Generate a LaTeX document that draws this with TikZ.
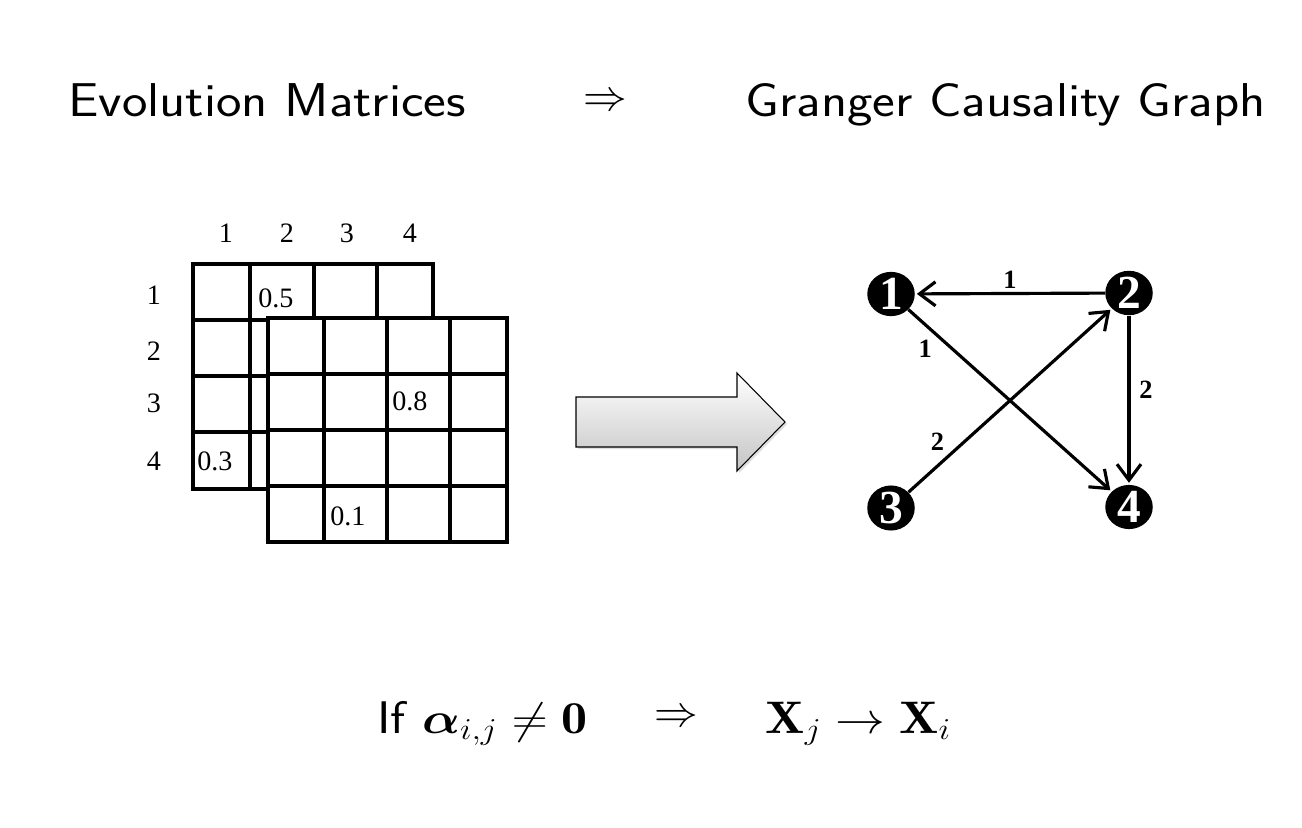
\documentclass[tikz,border=0pt]{standalone}
\usepackage{amsmath}
\usepackage{fontspec}
\usepackage{tikz}
\usetikzlibrary{arrows.meta,positioning,shapes.geometric,shadows}
\newfontfamily\timesfont{Liberation Serif}
\definecolor{arrowshade}{RGB}{196,196,196}
\tikzset{
 headline/.style={
 font=\sffamily\fontsize{27}{32}\selectfont,
 inner sep=0pt,
 xscale=1.14
 },
 formula/.style={
 font=\sffamily\fontsize{26}{30}\selectfont,
 inner sep=0pt,
 xscale=1.14
 },
 implies/.style={font=\fontsize{26}{30}\selectfont, inner sep=0pt},
 gridline/.style={line width=2.3pt},
 idxlabel/.style={font=\timesfont\fontsize{16}{18}\selectfont, inner sep=0pt},
 cellval/.style={font=\timesfont\fontsize{16}{18}\selectfont, inner sep=0pt, anchor=west},
 vertex/.style={
 ellipse,
 fill=black,
 text=white,
 minimum width=0.95cm,
 minimum height=0.82cm,
 inner sep=0pt,
 font=\timesfont\bfseries\fontsize{27}{27}\selectfont
 },
 weight/.style={font=\timesfont\bfseries\fontsize{15}{17}\selectfont, inner sep=2pt},
 causalarrow/.style={-{Straight Barb[length=3.2mm,width=4.8mm]}, line width=1.8pt, shorten >=1pt},
 bigarrow/.style={
 draw=black,
 line width=0.6pt,
 top color=white,
 bottom color=arrowshade,
 drop shadow={opacity=0.25, shadow xshift=1.2pt, shadow yshift=-1.2pt}
 }
}

\begin{document}
\begin{tikzpicture}[x=0.02cm, y=-0.02cm]
 \useasboundingbox (0,0) rectangle (1302,828);
 % headings
 \node[headline, anchor=base west] (evo) at (68,117) {Evolution Matrices};
 \node[implies] (imp) at (605,102) {$\Rightarrow$};
 \node[headline, anchor=base west] (gcg) at (745,117) {Granger Causality Graph};

 % back matrix
 \draw[gridline] (193,264) rectangle (433,489);
 \foreach \x in {250,314,377} \draw[gridline] (\x,264) -- (\x,489);
 \foreach \y in {320,376,432} \draw[gridline] (193,\y) -- (433,\y);
 % front matrix
 \fill[white] (268,318) rectangle (507,542);
 \draw[gridline] (268,318) rectangle (507,542);
 \foreach \x in {324,387,450} \draw[gridline] (\x,318) -- (\x,542);
 \foreach \y in {374,430,486} \draw[gridline] (268,\y) -- (507,\y);

 % indices
 \foreach \i/\x in {1/226,2/287,3/347,4/410}
 \node[idxlabel] (col\i) at (\x,233) {\i};
 \foreach \i/\y in {1/295,2/351,3/403,4/461}
 \node[idxlabel] (row\i) at (154,\y) {\i};

 % entries
 \node[cellval] (a12) at (258,298) {0.5};
 \node[cellval] (a41) at (197,461) {0.3};
 \node[cellval] (b33) at (392,401) {0.8};
 \node[cellval] (b52) at (330,516) {0.1};

 % big arrow
 \draw[bigarrow] (576,397) -- (737,397) -- (737,373) -- (785,422)
 -- (737,471) -- (737,447) -- (576,447) -- cycle;

 % graph
 \node[vertex] (v1) at (891,294) {1};
 \node[vertex] (v2) at (1129,293) {2};
 \node[vertex] (v3) at (891,508) {3};
 \node[vertex] (v4) at (1129,507) {4};
 \draw[causalarrow] (v2) -- node[weight, above] (w21) {1} (v1);
 \draw[causalarrow] (v1) -- node[weight, pos=0.14, below left] (w14) {1} (v4);
 \draw[causalarrow] (v3) -- node[weight, pos=0.2, above left] (w32) {2} (v2);
 \draw[causalarrow] (v2) -- node[weight, pos=0.44, right=3pt] (w24) {2} (v4);

 % rule
 \node[formula, anchor=base west] (cond) at (377,733) {If $\boldsymbol{\alpha}_{i,j}\neq\mathbf{0}$};
 \node[implies] (then) at (676,718) {$\Rightarrow$};
 \node[formula, anchor=base west] (rule) at (765,733) {$\mathbf{X}_j\to\mathbf{X}_i$};
\end{tikzpicture}
\end{document}
